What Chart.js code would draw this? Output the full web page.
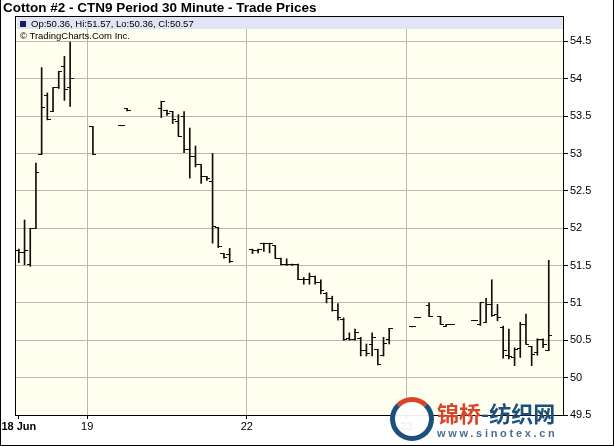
<!DOCTYPE html>
<html lang="en">
<head>
<meta charset="UTF-8">
<title>Cotton #2 - CTN9 Period 30 Minute</title>
<script src="https://cdn.jsdelivr.net/npm/chart.js"></script>
<style>
    body { margin: 0; background: #fff; }
    #wrap { position: relative; width: 614px; height: 446px; overflow: hidden; }
    #chart { position: absolute; left: 0; top: 0; }
    #title { position: absolute; left: 3px; top: 0; font: bold 13.5px "Liberation Sans", Arial, sans-serif; line-height: 15px; color: #000; white-space: nowrap; }
    #band { position: absolute; left: 17px; top: 17px; width: 546px; height: 12px; background: #e2e3f3; }
    .leg { position: absolute; left: 20px; font: 9.5px "Liberation Sans", Arial, sans-serif; line-height: 11px; color: #000; white-space: nowrap; }
    #leg1 { top: 18px; }
    #leg2 { top: 30px; }
    .sq { display: inline-block; width: 6px; height: 6px; background: #1c1c5c; margin-right: 5px; vertical-align: 0; }
    #logo { position: absolute; left: 390px; top: 397px; width: 34px; height: 34px; border: 5px solid #1d4f7c; border-radius: 50%; border-top-color: #d9452a; background: rgba(255,255,255,0.92); }
    #wm1 { position: absolute; left: 437px; top: 399px; font: bold 22px "Noto Sans CJK SC", sans-serif; line-height: 27px; color: #1d4f7c; white-space: nowrap; }
    #wm1 span { color: #d9452a; }
    #wm2 { position: absolute; left: 437px; top: 427px; font: bold 11px "Liberation Sans", Arial, sans-serif; letter-spacing: 2.7px; color: #4a6e90; white-space: nowrap; }
</style>
</head>
<body>
<div id="wrap">
    <canvas id="chart" width="614" height="446"></canvas>
    <div id="title">Cotton #2 - CTN9 Period 30 Minute - Trade Prices</div>
    <div id="band"></div>
    <div class="leg" id="leg1"><span class="sq"></span><span id="ohlc"></span></div>
    <div class="leg" id="leg2">&copy; TradingCharts.Com Inc.</div>
    <div id="logo"></div>
    <div id="wm1"><span>锦桥</span>-纺织网</div>
    <div id="wm2">www.sinotex.cn</div>
</div>
<script>
    // 30 minute slots, 28 per trading day
    var slotCount = 96;
    var dayLabels = ['18 Jun', '19', '22', '23'];
    var daySlots = [0, 12, 40, 68];
    var yTicks = [49.5, 50, 50.5, 51, 51.5, 52, 52.5, 53, 53.5, 54, 54.5];

    // slots that have a bar
    var barSlots = [0, 1, 2, 3, 4, 5, 6, 7, 8, 9,
        13, 18, 19,
        25, 26, 27, 28, 29, 30, 31, 32, 33, 34, 35, 36, 37,
        41, 42, 43, 44, 45, 46, 47, 48, 49, 50, 51, 52, 53, 54, 55, 56, 57, 58, 59, 60, 61, 62, 63, 64, 65,
        69, 70, 72, 74, 75, 76,
        80, 81, 82, 83, 84, 85, 86, 87, 88, 89, 90, 91, 92, 93];

    var opens = [51.70, 51.68, 51.52, 52.00, 52.99, 53.78, 53.56, 53.88, 54.17, 53.88,
        53.36, 53.37, 53.60,
        53.60, 53.58, 53.56, 53.43, 53.50, 53.05, 52.96, 52.85, 52.69, 52.62, 52.01, 51.66, 51.65,
        51.72, 51.70, 51.80, 51.80, 51.77, 51.60, 51.52, 51.52, 51.52, 51.31, 51.32, 51.36, 51.28, 51.12, 51.06, 50.90, 50.78, 50.52, 50.51, 50.52, 50.36, 50.45, 50.37, 50.29, 50.51,
        50.68, 50.80, 50.97, 50.82, 50.69, 50.71,
        50.76, 50.71, 50.74, 50.98, 50.85, 50.67, 50.30, 50.27, 50.39, 50.71, 50.42, 50.33, 50.51, 50.36];

    var highs = [51.72, 52.11, 52.00, 52.87, 54.15, 53.81, 53.88, 54.10, 54.30, 54.49,
        53.36, 53.37, 53.60,
        53.70, 53.58, 53.56, 53.52, 53.56, 53.34, 53.10, 52.85, 52.69, 53.00, 52.01, 51.66, 51.73,
        51.72, 51.72, 51.80, 51.80, 51.77, 51.60, 51.59, 51.52, 51.52, 51.34, 51.40, 51.36, 51.31, 51.14, 51.09, 50.99, 50.80, 50.60, 50.65, 50.54, 50.45, 50.60, 50.38, 50.54, 50.66,
        50.68, 50.80, 51.00, 50.82, 50.71, 50.71,
        50.76, 51.00, 51.06, 51.31, 50.98, 50.69, 50.65, 50.40, 50.74, 50.85, 50.42, 50.52, 50.52, 51.57];

    var lows = [51.54, 51.51, 51.49, 52.00, 52.99, 53.45, 53.56, 53.87, 53.71, 53.63,
        52.99, 53.37, 53.57,
        53.48, 53.51, 53.40, 53.23, 53.01, 52.67, 52.82, 52.60, 52.64, 51.80, 51.74, 51.60, 51.54,
        51.66, 51.67, 51.69, 51.67, 51.60, 51.51, 51.50, 51.50, 51.31, 51.25, 51.25, 51.25, 51.12, 51.00, 50.89, 50.77, 50.50, 50.50, 50.50, 50.29, 50.29, 50.29, 50.17, 50.29, 50.45,
        50.68, 50.80, 50.82, 50.71, 50.69, 50.71,
        50.76, 50.70, 50.74, 50.82, 50.76, 50.26, 50.25, 50.16, 50.27, 50.45, 50.16, 50.30, 50.40, 50.36];

    var closes = [51.67, 51.70, 51.99, 52.74, 53.62, 53.45, 53.88, 54.10, 53.85, 54.00,
        52.99, 53.37, 53.57,
        53.70, 53.54, 53.45, 53.23, 53.05, 52.96, 52.85, 52.69, 52.67, 52.02, 51.75, 51.61, 51.55,
        51.70, 51.71, 51.79, 51.79, 51.60, 51.52, 51.52, 51.51, 51.31, 51.32, 51.36, 51.27, 51.16, 51.06, 50.90, 50.80, 50.51, 50.51, 50.60, 50.36, 50.32, 50.54, 50.17, 50.46, 50.66,
        50.68, 50.80, 50.82, 50.71, 50.71, 50.71,
        50.76, 51.00, 50.98, 50.83, 50.80, 50.36, 50.28, 50.38, 50.71, 50.45, 50.31, 50.51, 50.44, 50.57];

    var barColor = '#140c0c';
    var fontFamily = '"Liberation Sans", Arial, sans-serif';

    // legend line from the last bar
    var last = barSlots.length - 1;
    document.getElementById('ohlc').textContent = 'Op:' + opens[last].toFixed(2) + ', Hi:' + highs[last].toFixed(2) +
        ', Lo:' + lows[last].toFixed(2) + ', Cl:' + closes[last].toFixed(2);

    // build slot arrays
    var slotLabels = [];
    var ranges = [], openPts = [], closePts = [];
    for (var i = 0; i < slotCount; i++) {
        slotLabels.push(String(i));
        ranges.push(null); openPts.push(null); closePts.push(null);
    }
    barSlots.forEach(function (s, k) {
        ranges[s] = [lows[k], highs[k]];
        openPts[s] = opens[k];
        closePts[s] = closes[k];
    });

    // small tick marks: open to the left, close to the right
    function tickMark(side) {
        var c = document.createElement('canvas');
        c.width = 7;
        c.height = 1;
        var g = c.getContext('2d');
        g.fillStyle = barColor;
        if (side === 'open') g.fillRect(0, 0, 4, 1);
        else g.fillRect(3, 0, 4, 1);
        return c;
    }

    function dayIndex(i) {
        return daySlots.indexOf(i);
    }

    var plotFrame = {
        id: 'plotFrame',
        beforeDraw: function (chart) {
            var a = chart.chartArea, ctx = chart.ctx;
            ctx.save();
            ctx.fillStyle = '#fffff0';
            ctx.fillRect(a.left, a.top, a.right - a.left, a.bottom - a.top);
            ctx.restore();
        },
        afterDraw: function (chart) {
            var a = chart.chartArea, ctx = chart.ctx;
            ctx.save();
            ctx.strokeStyle = '#000';
            ctx.lineWidth = 1;
            ctx.strokeRect(Math.round(a.left) - 0.5, Math.round(a.top) + 0.5, Math.round(a.right - a.left) + 1, Math.round(a.bottom - a.top));
            // outer frame
            ctx.beginPath();
            ctx.moveTo(0.5, 0);
            ctx.lineTo(0.5, 445.5);
            ctx.lineTo(613.5, 445.5);
            ctx.lineTo(613.5, 0);
            ctx.stroke();
            ctx.restore();
        }
    };

    new Chart(document.getElementById('chart'), {
        data: {
            labels: slotLabels,
            datasets: [{
                type: 'bar',
                data: ranges,
                backgroundColor: barColor,
                barThickness: 1,
                grouped: false
            }, {
                type: 'line',
                data: openPts,
                showLine: false,
                pointStyle: tickMark('open'),
                pointRadius: 3
            }, {
                type: 'line',
                data: closePts,
                showLine: false,
                pointStyle: tickMark('close'),
                pointRadius: 3
            }]
        },
        options: {
            responsive: false,
            animation: false,
            devicePixelRatio: 1,
            events: [],
            layout: { padding: { left: 16, top: 16, right: 0, bottom: 0 } },
            plugins: {
                legend: { display: false },
                tooltip: { enabled: false }
            },
            scales: {
                x: {
                    type: 'category',
                    offset: true,
                    afterFit: function (s) { s.height = 31; },
                    border: { display: true, color: '#000' },
                    grid: {
                        offset: false,
                        tickLength: 4,
                        color: function (ctx) { return dayIndex(ctx.index) > 0 ? '#b8b8b0' : 'rgba(0,0,0,0)'; },
                        tickColor: function (ctx) { return dayIndex(ctx.index) >= 0 ? '#000' : 'rgba(0,0,0,0)'; }
                    },
                    ticks: {
                        autoSkip: false,
                        maxRotation: 0,
                        padding: 1,
                        color: '#000',
                        font: function (ctx) {
                            return { family: fontFamily, size: 11, weight: ctx.index === 0 ? 'bold' : 'normal' };
                        },
                        callback: function (v, i) {
                            var d = dayIndex(i);
                            return d >= 0 ? dayLabels[d] : '';
                        }
                    }
                },
                y: {
                    position: 'right',
                    min: 49.5,
                    max: 54.84,
                    afterFit: function (s) { s.width = 51; },
                    afterBuildTicks: function (s) {
                        s.ticks = yTicks.map(function (v) { return { value: v }; });
                    },
                    border: { display: true, color: '#000' },
                    grid: { color: '#b8b8b0', tickColor: '#000', tickLength: 5 },
                    ticks: {
                        padding: 2,
                        color: '#000',
                        font: { family: fontFamily, size: 11 },
                        callback: function (v) { return String(v); }
                    }
                }
            }
        },
        plugins: [plotFrame]
    });
</script>
</body>
</html>
